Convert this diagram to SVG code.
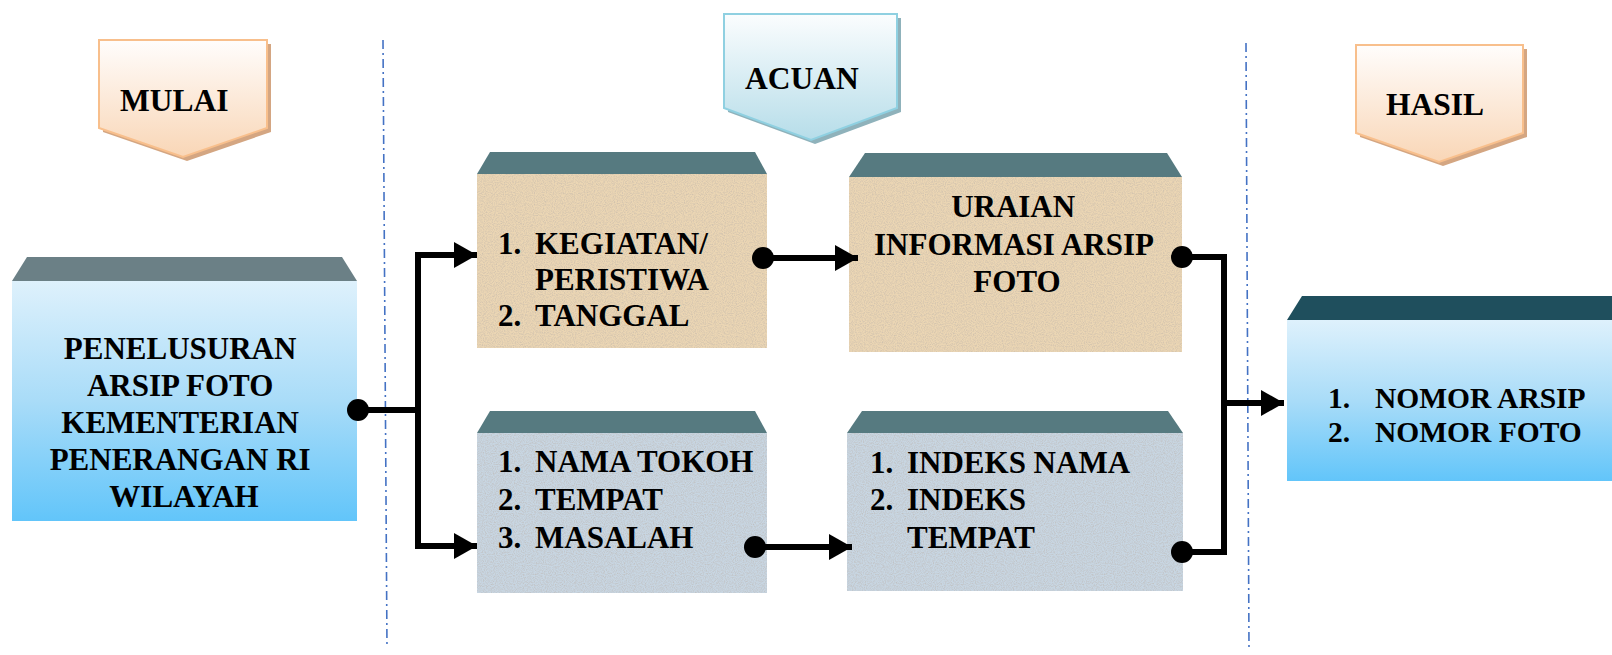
<svg xmlns="http://www.w3.org/2000/svg" width="1612" height="655" viewBox="0 0 1612 655">
<defs>
<linearGradient id="gPeach" x1="0" y1="0" x2="0" y2="1">
<stop offset="0" stop-color="#fffdfc"/><stop offset="1" stop-color="#f9d6b6"/>
</linearGradient>
<linearGradient id="gIce" x1="0" y1="0" x2="0" y2="1">
<stop offset="0" stop-color="#fbfdfe"/><stop offset="1" stop-color="#b6dde9"/>
</linearGradient>
<linearGradient id="gSky" x1="0" y1="0" x2="0" y2="1">
<stop offset="0" stop-color="#def1fc"/><stop offset="0.5" stop-color="#a9dcf8"/><stop offset="1" stop-color="#62c5fa"/>
</linearGradient>
<filter id="tex" x="0" y="0" width="1" height="1">
<feTurbulence type="fractalNoise" baseFrequency="0.9" numOctaves="2" seed="3" result="n"/>
<feColorMatrix in="n" type="matrix" values="0 0 0 0 0.5  0 0 0 0 0.45  0 0 0 0 0.4  0 0 0 -1.2 0.75" result="m"/>
<feComposite in="m" in2="SourceGraphic" operator="in" result="t"/>
<feMerge><feMergeNode in="SourceGraphic"/><feMergeNode in="t"/></feMerge>
</filter>
<marker id="arr" markerUnits="userSpaceOnUse" markerWidth="24" markerHeight="26" refX="23" refY="13" orient="auto">
<path d="M0,0 L23,13 L0,26 Z" fill="#000"/>
</marker>
</defs>
<style>
text{font-family:"Liberation Serif","Times New Roman",serif;font-weight:bold;fill:#000}
.t31{font-size:31px}
.t29{font-size:29.5px}
.t30{font-size:31.5px}
.dash{stroke:#4472c4;stroke-width:1.6;stroke-dasharray:9 4 2 4;fill:none}
.conn{stroke:#000;stroke-width:6;fill:none}
.dot{fill:#000}
.tan{fill:#ebd6b4}
.grey{fill:#c8d6e2}
.bevelM{fill:#567a80}
</style>

<g id="separators">
<line class="dash" x1="383" y1="40" x2="387" y2="648"/>
<line class="dash" x1="1246" y1="43" x2="1249" y2="648"/>
</g>

<g id="mulai">
<polygon points="103,44 271,44 271,132 187,161 103,132" fill="#d4a682"/>
<polygon points="99,40 267,40 267,128 183,157 99,128" fill="url(#gPeach)" stroke="#f8bf8c" stroke-width="2"/>
<text class="t30" x="120" y="111" font-family="Liberation Serif, serif">MULAI</text>
</g>

<g id="acuan">
<polygon points="728,18 901,18 901,112 815,144 728,112" fill="#8fb2bb"/>
<polygon points="724,14 897,14 897,108 811,140 724,108" fill="url(#gIce)" stroke="#8fd0e1" stroke-width="2"/>
<text class="t30" x="745" y="89" font-family="Liberation Serif, serif">ACUAN</text>
</g>

<g id="hasil">
<polygon points="1360,49 1527,49 1527,137 1443,166 1360,137" fill="#d4a682"/>
<polygon points="1356,45 1523,45 1523,133 1439,162 1356,133" fill="url(#gPeach)" stroke="#f8bf8c" stroke-width="2"/>
<text class="t30" x="1386" y="115" font-family="Liberation Serif, serif">HASIL</text>
</g>

<g id="penelusuran">
<polygon points="27,257 342,257 357,281 12,281" fill="#6b8086"/>
<rect x="12" y="281" width="345" height="240" fill="url(#gSky)"/>
<text class="t31" text-anchor="middle" font-family="Liberation Serif, serif">
<tspan x="184" y="359">PENELUSURAN</tspan>
<tspan x="184" y="396">ARSIP FOTO</tspan>
<tspan x="184" y="433">KEMENTERIAN</tspan>
<tspan x="184" y="470">PENERANGAN RI</tspan>
<tspan x="184" y="507">WILAYAH</tspan>
</text>
</g>

<g id="kegiatan">
<polygon class="bevelM" points="490,152 755,152 767,174 477,174"/>
<rect class="tan" x="477" y="174" width="290" height="174" filter="url(#tex)"/>
<text class="t31" font-family="Liberation Serif, serif">
<tspan x="498" y="254">1.</tspan><tspan x="535" y="254">KEGIATAN/</tspan>
<tspan x="535" y="290">PERISTIWA</tspan>
<tspan x="498" y="326">2.</tspan><tspan x="535" y="326">TANGGAL</tspan>
</text>
</g>

<g id="uraian">
<polygon class="bevelM" points="865,153 1167,153 1182,177 849,177"/>
<rect class="tan" x="849" y="177" width="333" height="175" filter="url(#tex)"/>
<text class="t31" text-anchor="middle" font-family="Liberation Serif, serif">
<tspan x="1017" y="217">URAIAN</tspan>
<tspan x="1017" y="255">INFORMASI ARSIP</tspan>
<tspan x="1017" y="292">FOTO</tspan>
</text>
</g>

<g id="namatokoh">
<polygon class="bevelM" points="490,411 755,411 767,433 477,433"/>
<rect class="grey" x="477" y="433" width="290" height="160" filter="url(#tex)"/>
<text class="t31" font-family="Liberation Serif, serif">
<tspan x="498" y="472">1.</tspan><tspan x="535" y="472">NAMA TOKOH</tspan>
<tspan x="498" y="510">2.</tspan><tspan x="535" y="510">TEMPAT</tspan>
<tspan x="498" y="548">3.</tspan><tspan x="535" y="548">MASALAH</tspan>
</text>
</g>

<g id="indeks">
<polygon class="bevelM" points="862,411 1168,411 1183,433 847,433"/>
<rect class="grey" x="847" y="433" width="336" height="158" filter="url(#tex)"/>
<text class="t31" font-family="Liberation Serif, serif">
<tspan x="870" y="473">1.</tspan><tspan x="907" y="473">INDEKS NAMA</tspan>
<tspan x="870" y="510">2.</tspan><tspan x="907" y="510">INDEKS</tspan>
<tspan x="907" y="548">TEMPAT</tspan>
</text>
</g>

<g id="nomor">
<polygon points="1302,296 1620,296 1620,320 1287,320" fill="#1f4f5d"/>
<rect x="1287" y="320" width="333" height="161" fill="url(#gSky)"/>
<text class="t29" font-family="Liberation Serif, serif">
<tspan x="1328" y="408">1.</tspan><tspan x="1375" y="408">NOMOR ARSIP</tspan>
<tspan x="1328" y="442">2.</tspan><tspan x="1375" y="442">NOMOR FOTO</tspan>
</text>
</g>

<g id="connectors">
<circle class="dot" cx="358" cy="410" r="11"/>
<line class="conn" x1="358" y1="410" x2="421" y2="410"/>
<line class="conn" x1="418" y1="252" x2="418" y2="549"/>
<path class="conn" d="M415,255 H477" marker-end="url(#arr)"/>
<path class="conn" d="M415,546 H477" marker-end="url(#arr)"/>

<circle class="dot" cx="763" cy="258" r="11"/>
<path class="conn" d="M763,258 H858" marker-end="url(#arr)"/>

<circle class="dot" cx="755" cy="547" r="11"/>
<path class="conn" d="M755,547 H852" marker-end="url(#arr)"/>

<circle class="dot" cx="1182" cy="257" r="11"/>
<circle class="dot" cx="1182" cy="552" r="11"/>
<path class="conn" d="M1182,257 H1224 V552 H1182"/>
<path class="conn" d="M1224,403 H1284" marker-end="url(#arr)"/>
</g>
</svg>
